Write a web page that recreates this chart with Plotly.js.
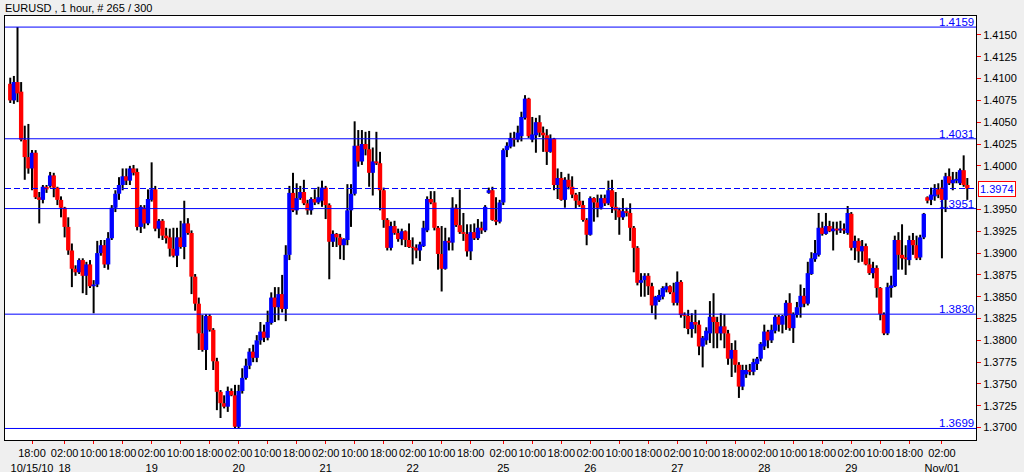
<!DOCTYPE html>
<html><head><meta charset="utf-8">
<script src="https://cdn.plot.ly/plotly-3.0.1.min.js"></script>
<style>html,body{margin:0;padding:0;background:#efefef;}#chart{width:1024px;height:472px;}</style>
</head><body><div id="chart"></div>
<script>
const openP = [1.4094,1.4075,1.4096,1.4085,1.4030,1.4010,1.3997,1.4015,1.3964,1.3961,
1.3976,1.3977,1.3989,1.3975,1.3961,1.3952,1.3930,1.3903,1.3882,1.3878,
1.3892,1.3874,1.3887,1.3862,1.3864,1.3900,1.3909,1.3887,1.3917,1.3952,
1.3968,1.3978,1.3988,1.3983,1.3997,1.3993,1.3930,1.3952,1.3934,1.3961,
1.3973,1.3928,1.3937,1.3920,1.3918,1.3905,1.3897,1.3918,1.3907,1.3934,
1.3923,1.3873,1.3842,1.3808,1.3789,1.3828,1.3812,1.3776,1.3741,1.3728,
1.3724,1.3742,1.3737,1.3701,1.3742,1.3757,1.3771,1.3787,1.3780,1.3800,
1.3810,1.3803,1.3820,1.3849,1.3838,1.3853,1.3836,1.3898,1.3969,1.3949,
1.3963,1.3970,1.3957,1.3949,1.3962,1.3958,1.3960,1.3975,1.3955,1.3913,
1.3922,1.3918,1.3909,1.3915,1.3949,1.3968,1.4023,1.4005,1.4025,1.4019,
1.3992,1.4005,1.4003,1.3972,1.3938,1.3906,1.3931,1.3923,1.3916,1.3925,
1.3915,1.3907,1.3906,1.3903,1.3908,1.3926,1.3962,1.3958,1.3929,1.3899,
1.3882,1.3914,1.3912,1.3952,1.3932,1.3924,1.3922,1.3902,1.3924,1.3917,
1.3929,1.3926,1.3969,1.3972,1.3938,1.3936,1.3958,1.4018,1.4022,1.4032,
1.4030,1.4034,1.4055,1.4077,1.4030,1.4035,1.4050,1.4038,1.4035,1.4016,
1.4031,1.3978,1.3986,1.3961,1.3984,1.3976,1.3967,1.3960,1.3955,1.3938,
1.3921,1.3963,1.3958,1.3952,1.3963,1.3957,1.3972,1.3953,1.3949,1.3941,
1.3948,1.3946,1.3929,1.3906,1.3866,1.3869,1.3874,1.3862,1.3840,1.3846,
1.3850,1.3858,1.3862,1.3855,1.3843,1.3867,1.3829,1.3828,1.3813,1.3821,
1.3818,1.3793,1.3800,1.3808,1.3827,1.3821,1.3808,1.3816,1.3808,1.3779,
1.3789,1.3772,1.3747,1.3761,1.3766,1.3764,1.3773,1.3779,1.3793,1.3810,
1.3800,1.3811,1.3827,1.3818,1.3828,1.3843,1.3814,1.3829,1.3838,1.3851,
1.3842,1.3876,1.3893,1.3898,1.3929,1.3922,1.3931,1.3925,1.3928,1.3926,
1.3928,1.3923,1.3945,1.3906,1.3914,1.3902,1.3908,1.3887,1.3877,1.3883,
1.3860,1.3830,1.3808,1.3860,1.3862,1.3915,1.3898,1.3895,1.3892,1.3915,
1.3909,1.3895,1.3918,1.3964,1.3961,1.3965,1.3973,1.3975,1.3961,1.3988,
1.3980,1.3983,1.3980,1.3995,1.3978];
const highP = [1.4101,1.4103,1.4159,1.4096,1.4046,1.4048,1.4018,1.4018,1.3970,1.3978,
1.3978,1.3993,1.3992,1.3976,1.3965,1.3953,1.3941,1.3911,1.3886,1.3894,
1.3894,1.3890,1.3892,1.3869,1.3914,1.3915,1.3915,1.3924,1.3955,1.3972,
1.3987,1.3997,1.3997,1.4000,1.4001,1.3997,1.3955,1.3955,1.3973,1.4004,
1.3977,1.3939,1.3939,1.3929,1.3928,1.3929,1.3929,1.3937,1.3960,1.3940,
1.3926,1.3876,1.3849,1.3829,1.3830,1.3830,1.3814,1.3780,1.3743,1.3737,
1.3747,1.3745,1.3749,1.3749,1.3768,1.3779,1.3791,1.3795,1.3806,1.3821,
1.3818,1.3834,1.3855,1.3861,1.3861,1.3875,1.3909,1.3977,1.3992,1.3980,
1.3977,1.3984,1.3961,1.3964,1.3973,1.3976,1.3983,1.3977,1.3957,1.3926,
1.3923,1.3922,1.3917,1.3979,1.3979,1.4051,1.4041,1.4041,1.4039,1.4040,
1.4021,1.4039,1.4016,1.3975,1.3940,1.3936,1.3937,1.3928,1.3928,1.3926,
1.3934,1.3918,1.3910,1.3913,1.3937,1.3965,1.3971,1.3971,1.3931,1.3931,
1.3929,1.3918,1.3964,1.3956,1.3973,1.3946,1.3933,1.3933,1.3934,1.3939,
1.3936,1.3955,1.3975,1.3976,1.3964,1.3961,1.4020,1.4027,1.4038,1.4039,
1.4046,1.4062,1.4081,1.4078,1.4056,1.4055,1.4058,1.4045,1.4042,1.4036,
1.4032,1.3997,1.3993,1.3987,1.3991,1.3988,1.3969,1.3970,1.3960,1.3940,
1.3965,1.3964,1.3967,1.3967,1.3967,1.3983,1.3984,1.3970,1.3952,1.3963,
1.3952,1.3957,1.3931,1.3908,1.3877,1.3877,1.3877,1.3866,1.3851,1.3858,
1.3862,1.3866,1.3863,1.3866,1.3879,1.3869,1.3832,1.3835,1.3831,1.3835,
1.3823,1.3805,1.3815,1.3845,1.3854,1.3827,1.3831,1.3830,1.3812,1.3797,
1.3800,1.3775,1.3772,1.3772,1.3773,1.3779,1.3781,1.3798,1.3818,1.3812,
1.3818,1.3829,1.3829,1.3829,1.3846,1.3854,1.3832,1.3844,1.3864,1.3860,
1.3890,1.3901,1.3915,1.3946,1.3936,1.3946,1.3937,1.3936,1.3936,1.3937,
1.3934,1.3954,1.3947,1.3920,1.3917,1.3915,1.3911,1.3894,1.3890,1.3886,
1.3861,1.3832,1.3866,1.3874,1.3920,1.3924,1.3933,1.3909,1.3920,1.3923,
1.3920,1.3921,1.3946,1.3965,1.3975,1.3979,1.3980,1.3984,1.3992,1.3997,
1.3993,1.3993,1.3997,1.4012,1.3986];
const lowP = [1.4072,1.4071,1.4073,1.4028,1.3984,1.3991,1.3972,1.3962,1.3934,1.3957,
1.3969,1.3975,1.3964,1.3955,1.3941,1.3918,1.3898,1.3861,1.3874,1.3876,
1.3854,1.3852,1.3860,1.3831,1.3861,1.3897,1.3883,1.3881,1.3915,1.3947,
1.3961,1.3972,1.3978,1.3978,1.3989,1.3926,1.3923,1.3928,1.3932,1.3959,
1.3925,1.3917,1.3915,1.3911,1.3896,1.3895,1.3884,1.3905,1.3893,1.3921,
1.3853,1.3834,1.3789,1.3787,1.3766,1.3810,1.3766,1.3720,1.3711,1.3722,
1.3718,1.3736,1.3699,1.3699,1.3739,1.3755,1.3767,1.3775,1.3775,1.3795,
1.3798,1.3800,1.3818,1.3821,1.3823,1.3832,1.3822,1.3892,1.3947,1.3944,
1.3961,1.3955,1.3944,1.3944,1.3955,1.3956,1.3953,1.3939,1.3870,1.3907,
1.3907,1.3893,1.3892,1.3909,1.3930,1.3966,1.3999,1.4001,1.4012,1.3976,
1.3966,1.4001,1.3949,1.3929,1.3903,1.3903,1.3921,1.3913,1.3909,1.3907,
1.3906,1.3887,1.3894,1.3891,1.3907,1.3924,1.3956,1.3926,1.3881,1.3856,
1.3881,1.3903,1.3903,1.3930,1.3922,1.3914,1.3896,1.3892,1.3915,1.3915,
1.3922,1.3924,1.3968,1.3937,1.3932,1.3934,1.3955,1.4010,1.4020,1.4022,
1.4027,1.4028,1.4053,1.4032,1.4027,1.4015,1.4033,1.4016,1.4001,1.4015,
1.3972,1.3962,1.3960,1.3952,1.3973,1.3963,1.3951,1.3953,1.3936,1.3909,
1.3920,1.3936,1.3941,1.3950,1.3954,1.3955,1.3946,1.3938,1.3921,1.3938,
1.3942,1.3914,1.3878,1.3863,1.3850,1.3850,1.3852,1.3831,1.3824,1.3844,
1.3847,1.3855,1.3853,1.3840,1.3840,1.3826,1.3814,1.3807,1.3803,1.3808,
1.3783,1.3769,1.3795,1.3797,1.3791,1.3791,1.3800,1.3791,1.3772,1.3758,
1.3763,1.3734,1.3743,1.3757,1.3760,1.3760,1.3766,1.3776,1.3789,1.3791,
1.3797,1.3808,1.3810,1.3808,1.3812,1.3811,1.3797,1.3826,1.3826,1.3838,
1.3840,1.3875,1.3890,1.3896,1.3920,1.3921,1.3924,1.3903,1.3921,1.3923,
1.3922,1.3921,1.3903,1.3892,1.3889,1.3890,1.3886,1.3875,1.3871,1.3849,
1.3823,1.3806,1.3806,1.3849,1.3861,1.3881,1.3881,1.3875,1.3886,1.3898,
1.3892,1.3892,1.3916,1.3957,1.3955,1.3960,1.3963,1.3894,1.3947,1.3978,
1.3972,1.3980,1.3978,1.3976,1.3961];
const closeP = [1.4075,1.4096,1.4083,1.4030,1.4010,1.3997,1.4015,1.3964,1.3961,1.3976,
1.3973,1.3989,1.3975,1.3961,1.3952,1.3930,1.3903,1.3882,1.3878,1.3892,
1.3874,1.3887,1.3862,1.3864,1.3900,1.3909,1.3887,1.3917,1.3952,1.3968,
1.3978,1.3988,1.3983,1.3997,1.3992,1.3930,1.3953,1.3934,1.3962,1.3973,
1.3928,1.3937,1.3920,1.3917,1.3905,1.3897,1.3918,1.3907,1.3934,1.3923,
1.3873,1.3842,1.3808,1.3789,1.3828,1.3812,1.3776,1.3741,1.3728,1.3724,
1.3742,1.3737,1.3701,1.3742,1.3757,1.3771,1.3787,1.3780,1.3800,1.3810,
1.3803,1.3821,1.3849,1.3838,1.3853,1.3836,1.3898,1.3969,1.3949,1.3963,
1.3970,1.3957,1.3949,1.3962,1.3958,1.3964,1.3975,1.3955,1.3913,1.3922,
1.3918,1.3909,1.3916,1.3949,1.3968,1.4023,1.4005,1.4025,1.4019,1.3992,
1.4005,1.4003,1.3972,1.3938,1.3906,1.3931,1.3923,1.3916,1.3925,1.3915,
1.3907,1.3906,1.3903,1.3910,1.3929,1.3962,1.3958,1.3929,1.3899,1.3882,
1.3914,1.3912,1.3952,1.3932,1.3924,1.3922,1.3902,1.3924,1.3917,1.3929,
1.3926,1.3953,1.3972,1.3938,1.3936,1.3958,1.4018,1.4023,1.4032,1.4030,
1.4038,1.4056,1.4077,1.4034,1.4036,1.4050,1.4038,1.4035,1.4016,1.4031,
1.3978,1.3986,1.3961,1.3984,1.3976,1.3967,1.3960,1.3955,1.3938,1.3921,
1.3963,1.3958,1.3952,1.3963,1.3957,1.3972,1.3953,1.3949,1.3941,1.3948,
1.3946,1.3929,1.3906,1.3866,1.3869,1.3874,1.3862,1.3840,1.3850,1.3852,
1.3860,1.3862,1.3855,1.3843,1.3867,1.3829,1.3828,1.3813,1.3821,1.3818,
1.3793,1.3803,1.3811,1.3827,1.3821,1.3808,1.3816,1.3808,1.3779,1.3789,
1.3772,1.3747,1.3766,1.3766,1.3764,1.3775,1.3779,1.3796,1.3810,1.3800,
1.3812,1.3827,1.3818,1.3828,1.3843,1.3814,1.3830,1.3838,1.3851,1.3842,
1.3877,1.3894,1.3900,1.3929,1.3922,1.3931,1.3925,1.3928,1.3926,1.3928,
1.3926,1.3946,1.3906,1.3914,1.3902,1.3908,1.3887,1.3877,1.3883,1.3860,
1.3830,1.3808,1.3861,1.3863,1.3915,1.3898,1.3894,1.3893,1.3915,1.3909,
1.3894,1.3918,1.3945,1.3960,1.3967,1.3973,1.3967,1.3961,1.3988,1.3980,
1.3984,1.3985,1.3995,1.3978,1.3974];

const tickIndex = [6,15,23,31,39,47,55,63,71,79,87,95,103,111,119,127,136,144,152,160,168,176,184,192,200,208,216,224,232,240,248,257];
const tickTime = ["18:00","02:00","10:00","18:00","02:00","10:00","18:00","02:00","10:00","18:00","02:00","10:00","18:00","02:00","10:00","18:00",
"02:00","10:00","18:00","02:00","10:00","18:00","02:00","10:00","18:00","02:00","10:00","18:00","02:00","10:00","18:00","02:00"];
const tickDate = ["10/15/10","18","","","19","","","20","","","21","","","22","","","25","","","26","","","27","","","28","","","29","","","Nov/01"];
const priceTicks = [1.3700,1.3725,1.3750,1.3775,1.3800,1.3825,1.3850,1.3875,1.3900,1.3925,1.3950,1.4000,1.4025,1.4050,1.4075,1.4100,1.4125,1.4150];
const levels = [1.4159,1.4031,1.3951,1.3830,1.3699];
const currentPrice = 1.3974;
const chartTitle = "EURUSD , 1 hour, # 265 / 300";

const FONT = "Liberation Sans, Arial, sans-serif";
const idx = closeP.map((_, i) => i);
const isUp = closeP.map((c, i) => c >= openP[i]);

const wicks = {
  type: 'bar', x: idx, base: lowP,
  y: highP.map((h, i) => Math.max(h - lowP[i], 0.00008)),
  width: 0.55, marker: {color: '#000000', line: {width: 0}},
  hoverinfo: 'skip', showlegend: false
};
const bodies = {
  type: 'bar', x: idx,
  base: openP.map((o, i) => Math.min(o, closeP[i])),
  y: openP.map((o, i) => Math.max(Math.abs(closeP[i] - o), 0.00012)),
  width: 1.2,
  marker: {color: isUp.map(u => u ? '#0000ff' : '#ff0000'), line: {width: 0}},
  hoverinfo: 'skip', showlegend: false
};

const shapes = levels.map(v => ({type: 'line', xref: 'paper', x0: 0, x1: 1, yref: 'y', y0: v, y1: v,
  line: {color: '#0000ff', width: 1}}));
shapes.push({type: 'line', xref: 'paper', x0: 0, x1: 1, yref: 'y', y0: currentPrice, y1: currentPrice,
  line: {color: '#0000ff', width: 1, dash: '6px,3px'}});

const annotations = levels.map(v => ({xref: 'paper', x: 1, xanchor: 'right', xshift: 0,
  yref: 'y', y: v, yanchor: 'bottom', yshift: -3, showarrow: false, text: v.toFixed(4),
  font: {family: FONT, size: 11.5, color: '#0000ff'}}));
annotations.push({xref: 'paper', x: 1, xanchor: 'left', xshift: 2, yref: 'y', y: currentPrice,
  yanchor: 'middle', showarrow: false, text: currentPrice.toFixed(4), bgcolor: '#ffffff',
  bordercolor: '#ff0000', borderwidth: 1, borderpad: 1, font: {family: FONT, size: 11, color: '#0000ff'}});

const layout = {
  width: 1024, height: 472,
  margin: {l: 5, r: 48, t: 16, b: 32},
  paper_bgcolor: '#efefef', plot_bgcolor: '#ffffff',
  barmode: 'overlay', hovermode: false, showlegend: false,
  font: {family: FONT, size: 11, color: '#000000'},
  title: {text: chartTitle, xref: 'container', x: 5/1024, xanchor: 'left',
    yref: 'container', y: 1 - 8/472, yanchor: 'middle', font: {family: FONT, size: 11, color: '#000000'}},
  xaxis: {range: [-1.45, 266.4], tickmode: 'array', tickvals: tickIndex,
    ticktext: tickTime.map((t, i) => tickDate[i] ? t + '<br>' + tickDate[i] : t),
    ticks: 'outside', ticklen: 3, tickcolor: '#ff0000', tickwidth: 1, tickangle: 0,
    showgrid: false, zeroline: false, showline: true, mirror: true, linecolor: '#000000', linewidth: 1,
    tickfont: {family: FONT, size: 11, color: '#000000'}, fixedrange: true},
  yaxis: {side: 'right', range: [1.36858, 1.41717], tickmode: 'array', tickvals: priceTicks,
    ticktext: priceTicks.map(v => v.toFixed(4)),
    ticks: 'outside', ticklen: 4, tickcolor: '#ff0000', tickwidth: 1,
    showgrid: false, zeroline: false, showline: true, mirror: true, linecolor: '#000000', linewidth: 1,
    tickfont: {family: FONT, size: 11, color: '#000000'}, fixedrange: true},
  shapes: shapes, annotations: annotations
};

Plotly.newPlot('chart', [wicks, bodies], layout, {displayModeBar: false, staticPlot: true});
</script>
</body></html>
